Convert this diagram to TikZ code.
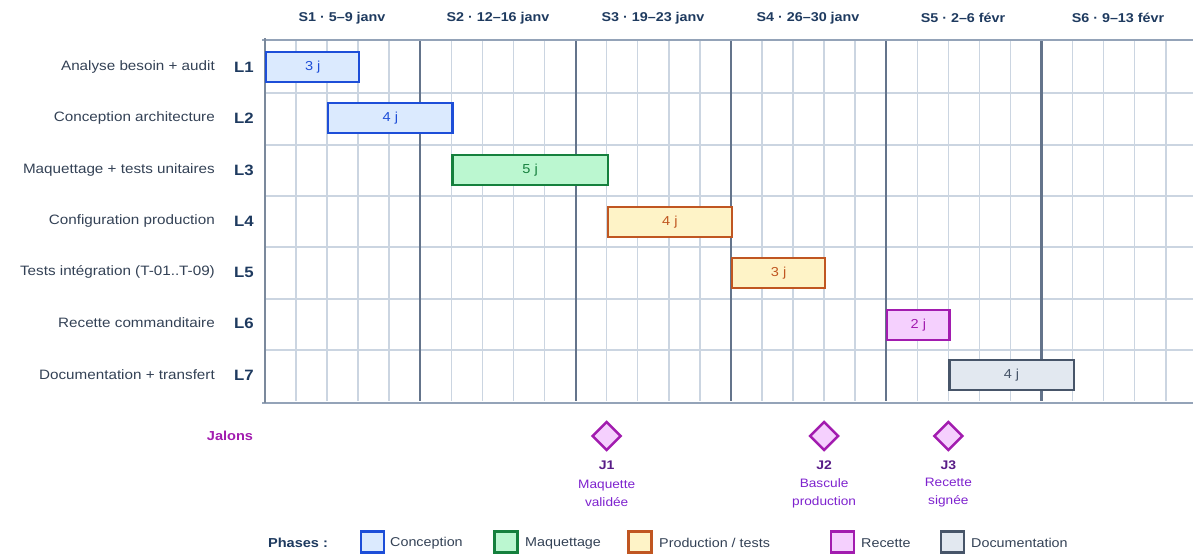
\documentclass[tikz,border=0pt]{standalone}
\usepackage{fontspec}
\setmainfont{Liberation Sans}[FakeStretch=1.12]
\usetikzlibrary{shapes.geometric}
\definecolor{ink}{HTML}{1E3A5F}
\definecolor{txt}{HTML}{334155}
\definecolor{gridl}{HTML}{CBD5E1}
\definecolor{gridw}{HTML}{64748B}
\definecolor{frame}{HTML}{94A3B8}
\definecolor{cS}{HTML}{1D4ED8}\definecolor{cF}{HTML}{DBEAFE}
\definecolor{mS}{HTML}{15803D}\definecolor{mF}{HTML}{BBF7D0}
\definecolor{pS}{HTML}{C05621}\definecolor{pF}{HTML}{FEF3C7}
\definecolor{rS}{HTML}{A21CAF}\definecolor{rF}{HTML}{F5D0FE}
\definecolor{dS}{HTML}{475569}\definecolor{dF}{HTML}{E2E8F0}
\definecolor{jid}{HTML}{581C87}\definecolor{jdesc}{HTML}{7E22CE}
\tikzset{
  rowlab/.style={anchor=east,inner sep=0,text=txt,font=\fontsize{13.6}{15}\selectfont},
  lnum/.style={inner sep=0,text=ink,font=\fontsize{15}{16}\selectfont\bfseries},
  weeklab/.style={inner sep=0,text=ink,font=\fontsize{12.8}{14}\selectfont\bfseries},
  bar/.style={rectangle,draw,line width=2.2,anchor=west,minimum height=30,inner sep=0,font=\fontsize{13}{14}\selectfont},
  jal/.style={diamond,draw=rS,fill=rF,line width=2.4,minimum width=29,minimum height=29,inner sep=0},
  jidst/.style={inner sep=0,text=jid,font=\fontsize{12.5}{14}\selectfont\bfseries},
  jdst/.style={inner sep=0,align=center,text=jdesc,font=\fontsize{12.2}{18}\selectfont},
  legbox/.style={rectangle,draw,line width=2.2,minimum width=23,minimum height=21,inner sep=0},
  legtxt/.style={anchor=west,inner sep=0,text=txt,font=\fontsize{12.8}{14}\selectfont},
}
\begin{document}
\begin{tikzpicture}[x=1pt,y=-1pt]
\useasboundingbox (0,0) rectangle (1193,554);
\def\dx{31.06}
% grid
\begin{scope}
\clip (0,0) rectangle (1193,554);
\foreach \y in {93,145,196,247,299,350}
  \draw[gridl,line width=1.5] (265,\y) -- (1193,\y);
\foreach \k in {1,...,30}{
  \pgfmathsetmacro{\xx}{265+\dx*\k}
  \draw[gridl,line width=1.5] (\xx,40) -- (\xx,401);
}
\foreach \k in {5,10,15,20,25}{
  \pgfmathsetmacro{\xx}{265+\dx*\k}
  \draw[gridw,line width=2.2] (\xx,40) -- (\xx,401);
}
\draw[frame,line width=2.8] (262,40) -- (1193,40);
\draw[frame,line width=2.8] (262,403) -- (1193,403);
\draw[gridw!85!white,line width=2.4] (265,38) -- (265,403);
\end{scope}
% week labels
\node[weeklab] (w1) at (342,18) {S1 · 5–9 janv};
\node[weeklab] (w2) at (498,18) {S2 · 12–16 janv};
\node[weeklab] (w3) at (653,18) {S3 · 19–23 janv};
\node[weeklab] (w4) at (808,18) {S4 · 26–30 janv};
\node[weeklab] (w5) at (963,18) {S5 · 2–6 févr};
\node[weeklab] (w6) at (1118,18) {S6 · 9–13 févr};
% row labels
\node[rowlab] (t1) at (215,67) {Analyse besoin + audit};
\node[rowlab] (t2) at (215,118) {Conception architecture};
\node[rowlab] (t3) at (215,170) {Maquettage + tests unitaires};
\node[rowlab] (t4) at (215,221) {Configuration production};
\node[rowlab] (t5) at (215,272) {Tests intégration (T-01..T-09)};
\node[rowlab] (t6) at (215,323) {Recette commanditaire};
\node[rowlab] (t7) at (215,375) {Documentation + transfert};
\node[lnum] (l1) at (244,67) {L1};
\node[lnum] (l2) at (244,118) {L2};
\node[lnum] (l3) at (244,170) {L3};
\node[lnum] (l4) at (244,221) {L4};
\node[lnum] (l5) at (244,272) {L5};
\node[lnum] (l6) at (244,323) {L6};
\node[lnum] (l7) at (244,375) {L7};
% bars
\node[bar,draw=cS,fill=cF,text=cS,minimum width=3*\dx] (b1) at (265+0*\dx,67) {3 j};
\node[bar,draw=cS,fill=cF,text=cS,minimum width=4*\dx] (b2) at (265+2*\dx,118) {4 j};
\node[bar,draw=mS,fill=mF,text=mS,minimum width=5*\dx] (b3) at (265+6*\dx,170) {5 j};
\node[bar,draw=pS,fill=pF,text=pS,minimum width=4*\dx] (b4) at (265+11*\dx,222) {4 j};
\node[bar,draw=pS,fill=pF,text=pS,minimum width=3*\dx] (b5) at (265+15*\dx,273) {3 j};
\node[bar,draw=rS,fill=rF,text=rS,minimum width=2*\dx] (b6) at (265+20*\dx,325) {2 j};
\node[bar,draw=dS,fill=dF,text=dS,minimum width=4*\dx] (b7) at (265+22*\dx,375) {4 j};
% milestones
\node[inner sep=0,text=rS,font=\fontsize{13}{14}\selectfont\bfseries] (jal) at (230,436) {Jalons};
\node[jal] (j1) at (265+11*\dx,436) {};
\node[jal] (j2) at (265+18*\dx,436) {};
\node[jal] (j3) at (265+22*\dx,436) {};
\node[jidst] (j1i) at (265+11*\dx,465) {J1};
\node[jidst] (j2i) at (265+18*\dx,465) {J2};
\node[jidst] (j3i) at (265+22*\dx,465) {J3};
\node[jdst] (j1d) at (265+11*\dx,493) {Maquette\\validée};
\node[jdst] (j2d) at (265+18*\dx,493) {Bascule\\production};
\node[jdst] (j3d) at (265+22*\dx,493) {Recette\\signée};
% legend
\node[inner sep=0,text=ink,font=\fontsize{13}{14}\selectfont\bfseries] (ph) at (298,543) {Phases :};
\node[legbox,draw=cS,fill=cF] (k1) at (372.5,542) {};
\node[legtxt] (k1t) at (390,543) {Conception};
\node[legbox,draw=mS,fill=mF] (k2) at (506,542) {};
\node[legtxt] (k2t) at (525,543) {Maquettage};
\node[legbox,draw=pS,fill=pF] (k3) at (640,542) {};
\node[legtxt] (k3t) at (659,543) {Production / tests};
\node[legbox,draw=rS,fill=rF] (k4) at (842.5,542) {};
\node[legtxt] (k4t) at (861,543) {Recette};
\node[legbox,draw=dS,fill=dF] (k5) at (952.5,542) {};
\node[legtxt] (k5t) at (971,543) {Documentation};
\end{tikzpicture}
\end{document}
